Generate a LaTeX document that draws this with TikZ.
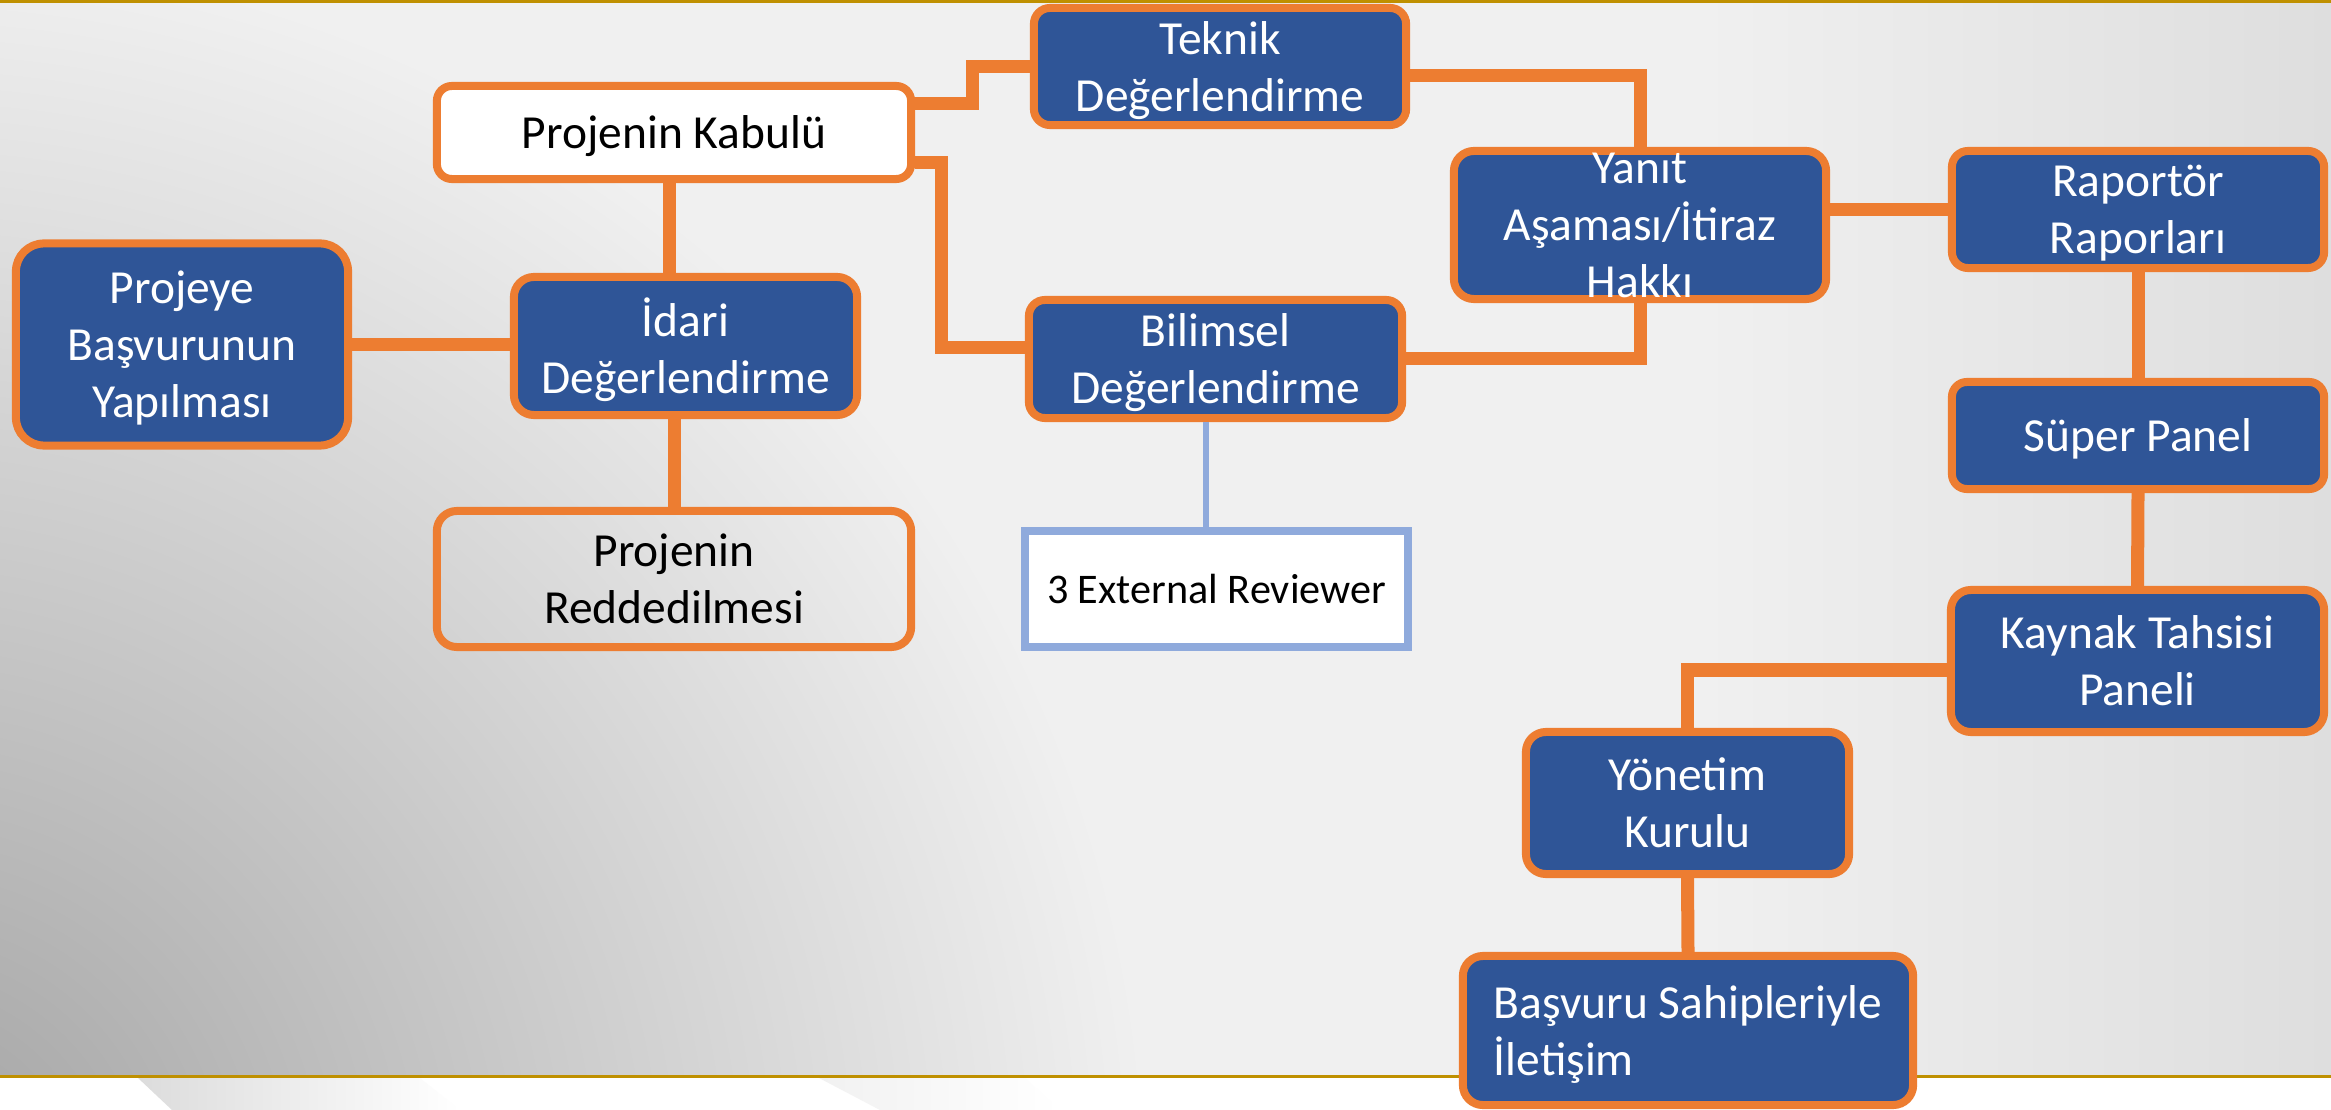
\documentclass[tikz,border=0pt]{standalone}
\usepackage{fontspec}
\setmainfont{Carlito}
\usetikzlibrary{calc}
\definecolor{orng}{HTML}{ED7D31}
\definecolor{bfill}{HTML}{2F5597}
\definecolor{gold}{HTML}{BF9000}
\definecolor{lblue}{HTML}{8FAADC}
\definecolor{bgl}{HTML}{F0F0F0}
\definecolor{bgd}{HTML}{A2A2A2}
\definecolor{bgr}{HTML}{DEDEDE}
\definecolor{swg}{HTML}{DCDCDC}
\pgfdeclareradialshading{bgrad}{\pgfpoint{0bp}{0bp}}{color(0bp)=(bgd); color(25bp)=(bgl); color(50bp)=(bgl)}
\newcommand{\mainsz}{\fontsize{13.5}{16.2}\selectfont}
\newcommand{\smallsz}{\fontsize{12}{14.4}\selectfont}
\begin{document}
\begin{tikzpicture}[x=0.01cm, y=-0.01cm,
  box/.style={draw=orng, line width=0.08cm, inner sep=0pt, align=center, font=\mainsz, text depth=0pt},
  bluebox/.style={box, fill=bfill, text=white},
  whitebox/.style={box, fill=white, text=black},
  clearbox/.style={box, text=black},
  revbox/.style={draw=lblue, fill=white, line width=0.08cm, inner sep=0pt, align=center, font=\smallsz, text=black, text depth=0pt},
  conn/.style={draw=orng, line width=0.13cm},
  thinconn/.style={draw=lblue, line width=0.06cm},
]
% background
\useasboundingbox (0,0) rectangle (2331,1110);
\fill[white] (0,0) rectangle (2331,1110);
\fill[bgl] (0,0) rectangle (2331,1076);
\begin{scope}
  \clip (0,0) rectangle (2331,1076);
  \shade[shading=bgrad] (-100,1200) circle (12.5cm);
  \shade[left color=bgl, right color=bgr] (1700,0) rectangle (2331,1076);
\end{scope}
\shade[left color=swg, right color=white] (138,1078) -- (172,1110) -- (460,1110) -- (420,1078) -- cycle;
\shade[left color=swg!40, right color=white] (819,1078) -- (880,1110) -- (1060,1110) -- (1025,1078) -- cycle;
\fill[gold] (0,0) rectangle (2331,3.5);
\fill[gold] (0,1074.5) rectangle (2331,1077.5);

% nodes
\node[bluebox, minimum width=3.32cm, minimum height=2.02cm, rounded corners=0.28cm] (proj) at (182,344.5) {Projeye\\Başvurunun\\Yapılması};
\node[bluebox, minimum width=3.43cm, minimum height=1.38cm, rounded corners=0.2cm] (idr) at (685.5,346) {İdari\\Değerlendirme};
\node[whitebox, minimum width=4.74cm, minimum height=0.93cm, rounded corners=0.15cm] (kab) at (674,132.5) {Projenin Kabulü};
\node[clearbox, minimum width=4.74cm, minimum height=1.36cm, rounded corners=0.2cm] (red) at (674,579) {Projenin\\Reddedilmesi};
\node[bluebox, minimum width=3.72cm, minimum height=1.17cm, rounded corners=0.16cm] (tek) at (1220,66.5) {Teknik\\Değerlendirme};
\node[bluebox, minimum width=3.73cm, minimum height=1.18cm, rounded corners=0.16cm] (bil) at (1215.5,359) {Bilimsel\\Değerlendirme};
\node[revbox, minimum width=3.83cm, minimum height=1.16cm] (ext) at (1216.5,589) {3 External Reviewer};
\node[bluebox, minimum width=3.72cm, minimum height=1.48cm, rounded corners=0.2cm] (yan) at (1640,225) {};
\node[bluebox, minimum width=3.72cm, minimum height=1.17cm, rounded corners=0.16cm] (rap) at (2138,209.5) {Raportör\\Raporları};
\node[bluebox, minimum width=3.72cm, minimum height=1.07cm, rounded corners=0.15cm] (sup) at (2138,435.5) {Süper Panel};
\node[bluebox, minimum width=3.73cm, minimum height=1.42cm, rounded corners=0.2cm] (kay) at (2137.5,661) {Kaynak Tahsisi\\Paneli};
\node[bluebox, minimum width=3.23cm, minimum height=1.42cm, rounded corners=0.2cm] (yon) at (1687.5,803) {Yönetim\\Kurulu};
\node[bluebox, minimum width=4.50cm, minimum height=1.49cm, rounded corners=0.2cm, align=left] (bas) at (1688,1030.5) {Başvuru Sahipleriyle\\İletişim};

% connectors
\draw[conn] (proj.east) -- (proj.east -| idr.west);
\draw[conn] ($(kab.south)+(-5,0)$) coordinate (kq) -- (kq |- idr.north);
\draw[conn] (red.north) -- (red.north |- idr.south);
\draw[conn] ($(kab.east)+(0,-29)$) -- ++(57.5,0) |- (tek.west);
\draw[conn] ($(kab.east)+(0,30)$) -- ++(26.5,0) |- ($(bil.west)+(0,-11.5)$);
\draw[conn] ($(tek.east)+(0,9)$) -| (yan.north);
\draw[conn] (bil.east) -| (yan.south);
\draw[conn] (rap.west) -- (rap.west -| yan.east);
\draw[conn] (rap.south) -- (sup.north);
\draw[conn] (sup.south) -- (kay.north);
\draw[conn] ($(kay.west)+(0,9)$) -| (yon.north);
\draw[conn] (yon.south) -- (bas.north);
\draw[thinconn] ($(bil.south)+(-10,0)$) coordinate (bq) -- (bq |- ext.north);

% overflowing text of the Yanıt box
\node[font=\mainsz, text=white, align=center, inner sep=0pt, text depth=0pt] (yant) at (yan.center) {Yanıt\\Aşaması/İtiraz\\Hakkı};
\end{tikzpicture}
\end{document}
